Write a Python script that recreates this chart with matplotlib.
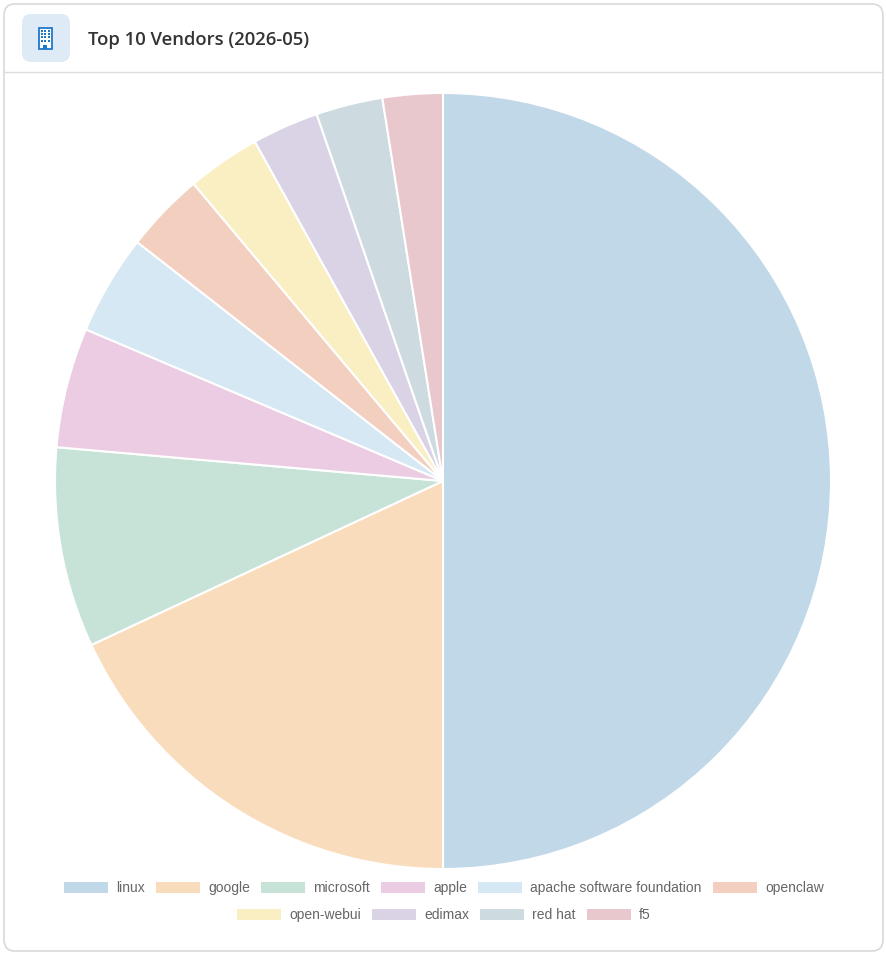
import matplotlib
matplotlib.use("Agg")
import matplotlib.pyplot as plt
from matplotlib.patches import FancyBboxPatch, Rectangle, Patch

vendors = ["linux", "google", "microsoft", "apple", "apache software foundation",
           "openclaw", "open-webui", "edimax", "red hat", "f5"]
counts = [180, 65, 30, 18, 15, 12, 11, 10, 10, 9]
colors = ["#c1d8e8", "#f9dcbb", "#c7e3d8", "#ebcce2", "#d5e8f4",
          "#f3cfc0", "#f9efc3", "#d9d3e5", "#cddbe0", "#e8c8cc"]
title = "Top 10 Vendors (2026-05)"

W, H = 887, 957
fig = plt.figure(figsize=(W / 100, H / 100), dpi=100)
fig.patch.set_facecolor("white")

def fx(x): return x / W
def fy(y): return 1 - y / H

# card
card = FancyBboxPatch((fx(4), fy(951)), fx(879), 947 / H,
                      boxstyle="round,pad=0,rounding_size=0.012",
                      transform=fig.transFigure, facecolor="white",
                      edgecolor="#d9d9d9", linewidth=1.2, zorder=-10)
fig.patches.append(card)
fig.add_artist(plt.Line2D([fx(5), fx(882)], [fy(72), fy(72)], color="#dcdcdc",
                          linewidth=1.0, transform=fig.transFigure, zorder=-5))

# icon box
icon = FancyBboxPatch((fx(22), fy(62)), fx(48), 48 / H,
                      boxstyle="round,pad=0,rounding_size=0.01",
                      transform=fig.transFigure, facecolor="#deebf7",
                      edgecolor="none", zorder=1)
fig.patches.append(icon)
blue = "#1e78c8"
fig.patches.append(Rectangle((fx(39), fy(49)), fx(13), 21 / H, transform=fig.transFigure,
                             facecolor="white", edgecolor=blue, linewidth=1.3, zorder=2))
for r in range(4):
    for c in range(3):
        fig.patches.append(Rectangle((fx(41 + c * 3.3), fy(32 + r * 3.2)), fx(2), 2 / H,
                                     transform=fig.transFigure, facecolor=blue,
                                     edgecolor="none", zorder=3))
fig.patches.append(Rectangle((fx(43.5), fy(49)), fx(4), 4 / H, transform=fig.transFigure,
                             facecolor=blue, edgecolor="none", zorder=3))

fig.text(fx(88), fy(40), title, fontsize=13.3, fontweight="semibold",
         family=["Open Sans", "DejaVu Sans"], color="#333333", va="center", ha="left")

# pie
cx, cy, R = 443, 481, 388
ax = fig.add_axes([fx(cx - R), fy(cy + R), 2 * R / W, 2 * R / H], zorder=5)
ax.patch.set_alpha(0)
wedges, _ = ax.pie(counts, colors=colors, startangle=90, counterclock=False,
                   wedgeprops=dict(edgecolor="white", linewidth=1.5))
ax.set_xlim(-1, 1)
ax.set_ylim(-1, 1)
ax.set_aspect("equal")
ax.axis("off")

# legend
handles = [Patch(facecolor=c, edgecolor="none") for c in colors]
common = dict(frameon=False, handlelength=3.15, handleheight=0.85, handletextpad=0.6,
              columnspacing=0.8, prop=dict(family=["Liberation Sans", "DejaVu Sans"], size=10),
              labelcolor="#666666", loc="center")
leg1 = fig.legend(handles[:6], vendors[:6], ncol=6, bbox_to_anchor=(fx(444), fy(888)), **common)
leg2 = fig.legend(handles[6:], vendors[6:], ncol=4, bbox_to_anchor=(fx(444), fy(915)), **common)

fig.savefig("out.png", dpi=100, facecolor="white")
